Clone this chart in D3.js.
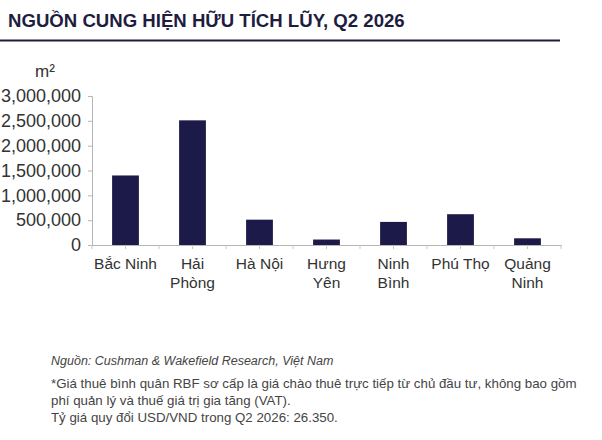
<!DOCTYPE html>
<html>
<head>
<meta charset="utf-8">
<script src="https://cdn.jsdelivr.net/npm/d3@7"></script>
<style>
  body { margin: 0; background: #fff; }
  svg text { font-family: "Liberation Sans", Arial, sans-serif; }
</style>
</head>
<body>
<div id="chart"></div>
<script>
// categories (label lines) and values, m2
var provinces = [["Bắc Ninh"], ["Hải", "Phòng"], ["Hà Nội"], ["Hưng", "Yên"], ["Ninh", "Bình"], ["Phú Thọ"], ["Quảng", "Ninh"]];
var supply = [1400000, 2510000, 510000, 110000, 465000, 620000, 135000];
var yTicks = [0, 500000, 1000000, 1500000, 2000000, 2500000, 3000000];

var titleText = "NGUỒN CUNG HIỆN HỮU TÍCH LŨY, Q2 2026";
var unitText = "m²";
var sourceText = "Nguồn: Cushman & Wakefield Research, Việt Nam";
var noteLines = [
    "*Giá thuê bình quân RBF sơ cấp là giá chào thuê trực tiếp từ chủ đầu tư, không bao gồm",
    "phí quản lý và thuế giá trị gia tăng (VAT).",
    "Tỷ giá quy đổi USD/VND trong Q2 2026: 26.350."
];

var width = 602, height = 440;
var plot = {left: 92, right: 561, top: 96, bottom: 245};

var svg = d3.select("#chart").append("svg")
    .attr("width", width)
    .attr("height", height);

// title + rule
svg.append("text")
    .attr("x", 8)
    .attr("y", 27)
    .attr("fill", "#1f1d3f")
    .style("font-size", "18.6px")
    .style("font-weight", "bold")
    .text(titleText);

svg.append("line")
    .attr("x1", 0).attr("x2", 560)
    .attr("y1", 40.5).attr("y2", 40.5)
    .attr("stroke", "#1f1d3f")
    .attr("stroke-width", 2);

// scales
var x = d3.scaleBand()
    .domain(d3.range(provinces.length))
    .range([plot.left, plot.right])
    .paddingInner(0.6)
    .paddingOuter(0.3);

var y = d3.scaleLinear()
    .domain([0, 3000000])
    .range([plot.bottom, plot.top]);

// y axis
var yAxis = d3.axisLeft(y)
    .tickValues(yTicks)
    .tickSize(4)
    .tickPadding(7)
    .tickFormat(d3.format(","));

var gy = svg.append("g")
    .attr("transform", "translate(" + plot.left + ",0)")
    .call(yAxis);
gy.select(".domain").attr("stroke", "#b5b5b5");
gy.selectAll(".tick line").attr("stroke", "#b5b5b5");
gy.selectAll(".tick text")
    .attr("fill", "#333")
    .style("font-size", "18px")
    .style("font-family", "'Liberation Sans', Arial, sans-serif");

svg.append("text")
    .attr("x", 45)
    .attr("y", 77)
    .attr("text-anchor", "middle")
    .attr("fill", "#333")
    .style("font-size", "17px")
    .text(unitText);

// bars
svg.selectAll("rect.bar")
    .data(supply)
    .join("rect")
    .attr("class", "bar")
    .attr("x", function(d, i) { return x(i); })
    .attr("width", x.bandwidth())
    .attr("y", function(d) { return y(d); })
    .attr("height", function(d) { return y(0) - y(d); })
    .attr("fill", "#1c1a48");

// x axis: baseline + ticks at band edges and centres
var step = x.step();
var tickPos = d3.range(provinces.length * 2 + 1).map(function(k) {
    return plot.left + k * step / 2;
});

svg.append("line")
    .attr("x1", plot.left - 4).attr("x2", plot.right + 1)
    .attr("y1", y(0) + 0.5).attr("y2", y(0) + 0.5)
    .attr("stroke", "#b5b5b5");

svg.selectAll("line.xtick")
    .data(tickPos)
    .join("line")
    .attr("class", "xtick")
    .attr("x1", function(d) { return d; })
    .attr("x2", function(d) { return d; })
    .attr("y1", y(0))
    .attr("y2", y(0) + 4)
    .attr("stroke", "#c8c8c8");

var labels = svg.selectAll("text.cat")
    .data(provinces)
    .join("text")
    .attr("class", "cat")
    .attr("text-anchor", "middle")
    .attr("fill", "#333")
    .style("font-size", "15.5px")
    .attr("transform", function(d, i) {
        return "translate(" + (x(i) + x.bandwidth() / 2) + ",269)";
    });

labels.selectAll("tspan")
    .data(function(d) { return d; })
    .join("tspan")
    .attr("x", 0)
    .attr("y", function(d, j) { return j * 19; })
    .text(function(d) { return d; });

// footer
svg.append("text")
    .attr("x", 51)
    .attr("y", 365)
    .attr("fill", "#444")
    .style("font-size", "12.5px")
    .style("font-style", "italic")
    .text(sourceText);

svg.selectAll("text.note")
    .data(noteLines)
    .join("text")
    .attr("class", "note")
    .attr("x", 51)
    .attr("y", function(d, i) { return 388 + i * 17; })
    .attr("fill", "#444")
    .style("font-size", "13.3px")
    .text(function(d) { return d; });
</script>
</body>
</html>
